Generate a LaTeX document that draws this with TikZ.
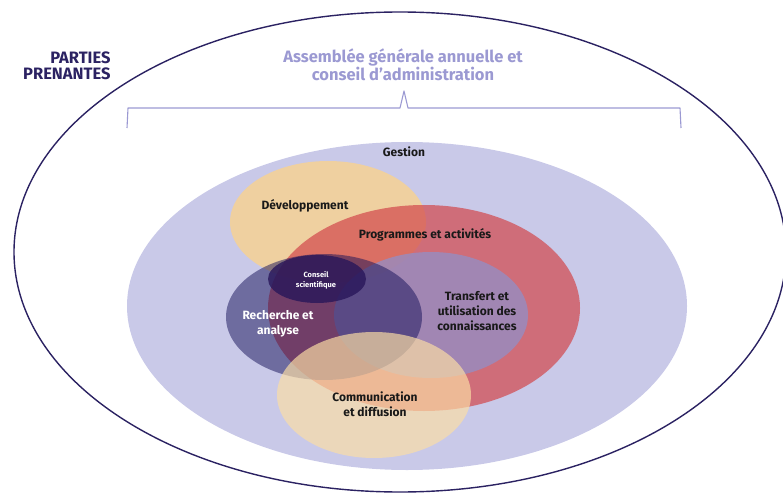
\documentclass[tikz,border=0pt]{standalone}
\usepackage{fontspec}
\setmainfont{Fira Sans}
\usetikzlibrary{positioning}
\definecolor{lavande}{RGB}{201,201,232}
\definecolor{titre}{RGB}{155,153,210}
\definecolor{marine}{RGB}{43,34,98}
\definecolor{peche}{RGB}{239,208,160}
\definecolor{rouge}{RGB}{210,71,75}
\definecolor{mauve}{RGB}{146,143,199}
\definecolor{nuit}{RGB}{20,16,88}
\definecolor{encre}{RGB}{40,22,90}
\definecolor{sable}{RGB}{252,222,165}
\tikzset{
  etiquette/.style={align=center,inner sep=0pt,font=\bfseries\fontsize{12}{15}\selectfont,text=black!90},
  blanche/.style={etiquette,text=white},
  accolade/.style={draw=titre,line width=1.1pt,line join=round}
}

\begin{document}
\begin{tikzpicture}[x=1pt,y=-1pt]
            \useasboundingbox (0,0) rectangle (783,494);
            % cercles
            \draw[marine,line width=1.4pt] (400,252) ellipse [x radius=386pt,y radius=240pt];
            \fill[lavande] (407,306) ellipse [x radius=280pt,y radius=164pt];
            \fill[peche] (328,222) ellipse [x radius=98pt,y radius=61pt];
            \fill[rouge,fill opacity=0.7] (424,308) ellipse [x radius=156pt,y radius=103pt];
            \fill[mauve,fill opacity=0.75] (431,315) ellipse [x radius=97pt,y radius=63pt];
            \fill[nuit,fill opacity=0.5] (324,317) ellipse [x radius=98pt,y radius=63pt];
            \fill[encre,fill opacity=0.8] (317,279) ellipse [x radius=49pt,y radius=24pt];
            \fill[sable,fill opacity=0.68] (374,395) ellipse [x radius=97pt,y radius=63pt];
            % accolade
            \coordinate (g) at (127,128);
            \coordinate (d) at (681,128);
            \coordinate (pointe) at (404,91);
            \draw[accolade] (g) -- (128,108) -- (400,108) -- (pointe) -- (408,108) -- (680,108) -- (d);
            % textes
            \node[font=\bfseries\fontsize{16.5}{16}\selectfont,text=marine,align=right,anchor=east] (parties) at (114,66) {PARTIES\\PRENANTES};
            \node[font=\bfseries\fontsize{16.5}{15}\selectfont,text=titre,align=center] (assemblee) at (403,65) {Assemblée générale annuelle et\\conseil d’administration};
            \node[etiquette] (gestion) at (404,152) {Gestion};
            \node[etiquette] (dev) at (305,206) {Développement};
            \node[etiquette] (prog) at (425,235) {Programmes et activités};
            \node[blanche,font=\bfseries\fontsize{7.5}{10}\selectfont] (conseil) at (316,280) {Conseil\\scientifique};
            \node[blanche] (recherche) at (278,324) {Recherche et\\analyse};
            \node[etiquette] (transfert) at (477,311) {Transfert et\\utilisation des\\connaissances};
            \node[etiquette] (comm) at (375,404) {Communication\\et diffusion};
\end{tikzpicture}
\end{document}
